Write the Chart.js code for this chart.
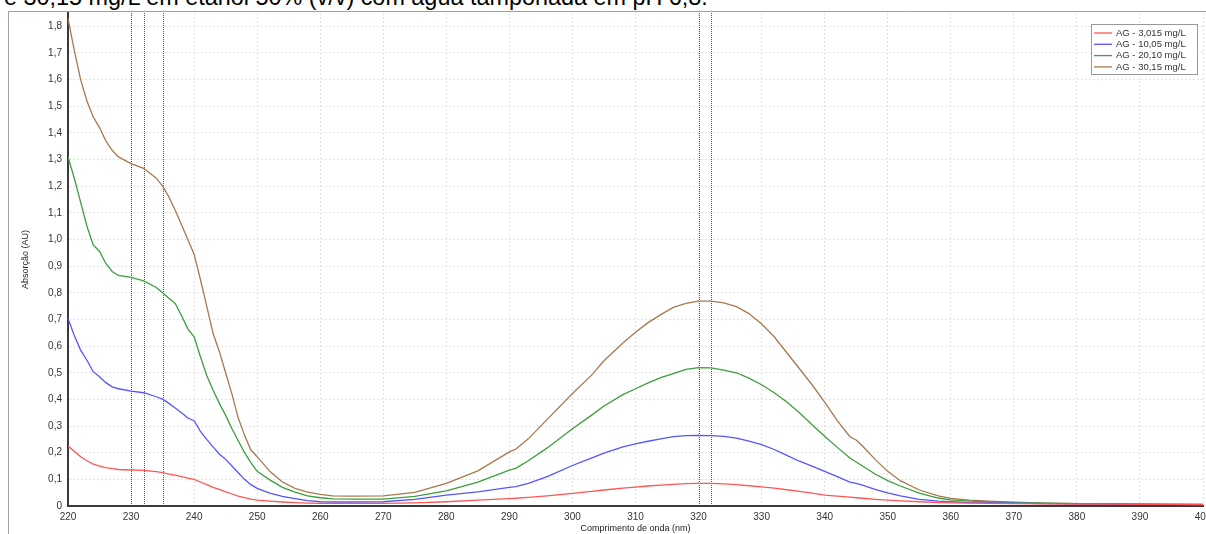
<!DOCTYPE html>
<html lang="pt">
<head>
<meta charset="utf-8">
<title>Espectro de absorção – AG</title>
<script src="https://cdn.jsdelivr.net/npm/chart.js@4.4.1/dist/chart.umd.min.js"></script>
<style>
  html, body { margin: 0; padding: 0; background: #fff; overflow: hidden; }
  #wrap { position: relative; width: 1206px; height: 534px; overflow: hidden; }
  #caption {
    position: absolute; left: 4px; top: -14px; white-space: nowrap;
    font-family: "Liberation Sans", Arial, sans-serif; font-size: 23.4px; line-height: 23px; color: #000;
  }
  #chart { position: absolute; left: 0; top: 0; }
</style>
</head>
<body>
<div id="wrap">
  <div id="caption">e 30,15 mg/L em etanol 50% (v/v) com água tamponada em pH 6,8.</div>
  <canvas id="chart" width="1206" height="534"></canvas>
</div>
<script>
// Wavelengths (nm) at which the spectra are sampled
const wavelengths = [
  220,221,222,223,224,225,226,227,228,230,232,234,
  235,236,237,238,239,240,241,242,243,244,245,246,247,248,249,250,
  252,254,256,258,260,262,265,270,275,280,285,290,
  291,293,296,300,303,305,308,310,
  312,314,316,318,320,322,324,326,328,330,332,334,336,338,340,342,344,
  345,346,348,350,352,355,358,360,363,366,370,
  375,380,385,390,395,400
];

// Absorbance (AU) for each concentration
const ag3015 = [
  0.225,0.205,0.185,0.170,0.157,0.150,0.144,0.140,0.137,0.135,0.134,0.129,
  0.125,0.120,0.116,0.110,0.105,0.100,0.090,0.080,0.070,0.062,0.053,0.045,0.037,0.031,0.026,0.022,
  0.018,0.015,0.013,0.011,0.010,0.010,0.010,0.010,0.012,0.016,0.022,0.028,
  0.029,0.032,0.038,0.047,0.055,0.060,0.067,0.071,
  0.075,0.078,0.081,0.084,0.085,0.085,0.083,0.080,0.076,0.072,0.067,0.061,0.055,0.048,0.041,0.037,0.033,
  0.031,0.029,0.025,0.022,0.019,0.016,0.013,0.012,0.011,0.010,0.009,
  0.008,0.007,0.007,0.006,0.006,0.005
];
const ag1005 = [
  0.704,0.640,0.585,0.547,0.504,0.485,0.463,0.447,0.440,0.431,0.425,0.410,
  0.401,0.385,0.368,0.350,0.330,0.320,0.280,0.250,0.222,0.195,0.175,0.150,0.125,0.100,0.080,0.066,
  0.048,0.036,0.028,0.020,0.016,0.015,0.015,0.016,0.025,0.041,0.053,0.070,
  0.073,0.085,0.110,0.152,0.180,0.198,0.222,0.233,
  0.243,0.252,0.260,0.264,0.265,0.264,0.261,0.255,0.243,0.230,0.212,0.190,0.168,0.150,0.130,0.110,0.090,
  0.085,0.078,0.062,0.049,0.038,0.025,0.018,0.016,0.013,0.012,0.011,
  0.009,0.008,0.007,0.006,0.006,0.005
];
const ag2010 = [
  1.310,1.230,1.140,1.050,0.980,0.955,0.910,0.880,0.865,0.858,0.845,0.820,
  0.800,0.780,0.760,0.715,0.665,0.635,0.560,0.490,0.435,0.385,0.340,0.290,0.245,0.200,0.163,0.130,
  0.098,0.070,0.052,0.038,0.031,0.027,0.026,0.026,0.036,0.057,0.090,0.135,
  0.141,0.170,0.218,0.290,0.340,0.375,0.418,0.440,
  0.462,0.482,0.497,0.513,0.519,0.518,0.510,0.500,0.480,0.455,0.425,0.390,0.350,0.305,0.262,0.220,0.180,
  0.165,0.150,0.120,0.095,0.075,0.048,0.030,0.023,0.018,0.015,0.013,
  0.011,0.009,0.008,0.007,0.006,0.006
];
const ag3015b = [
  1.830,1.710,1.600,1.520,1.460,1.420,1.370,1.335,1.310,1.285,1.267,1.230,
  1.200,1.160,1.110,1.055,1.000,0.945,0.850,0.750,0.648,0.580,0.500,0.420,0.330,0.265,0.210,0.185,
  0.130,0.090,0.066,0.052,0.044,0.038,0.037,0.038,0.051,0.085,0.132,0.203,
  0.213,0.252,0.325,0.422,0.490,0.545,0.612,0.652,
  0.688,0.718,0.745,0.760,0.769,0.769,0.762,0.748,0.722,0.683,0.635,0.575,0.515,0.455,0.390,0.320,0.260,
  0.248,0.225,0.175,0.130,0.095,0.060,0.038,0.029,0.022,0.018,0.014,
  0.011,0.009,0.008,0.007,0.006,0.006
];

const seriesLabels = ['AG - 3,015 mg/L', 'AG - 10,05 mg/L', 'AG - 20,10 mg/L', 'AG - 30,15 mg/L'];
const seriesColors = ['#ff5555', '#5555ff', '#3c9f3c', '#a8794f'];
const seriesValues = [ag3015, ag1005, ag2010, ag3015b];

// Reference wavelengths marked with dotted vertical lines
const markerWavelengths = [230, 232, 235, 320, 322];

const xTicks = { min: 220, max: 400, step: 10 };
const yTicks = { min: 0, max: 1.85, step: 0.1 };

const tickFont = { family: '"Liberation Sans", Arial, sans-serif', size: 10 };
const smallFont = '9.5px "Liberation Sans", Arial, sans-serif';

const datasets = seriesValues.map((vals, i) => ({
  label: seriesLabels[i],
  data: wavelengths.map((w, j) => ({ x: w, y: vals[j] })),
  borderColor: seriesColors[i],
  backgroundColor: seriesColors[i],
  borderWidth: 1.3,
  pointRadius: 0,
  tension: 0,
  fill: false
}));

// Outer frame of the plotting window
const framePlugin = {
  id: 'frame',
  beforeDraw(chart) {
    const c = chart.ctx;
    c.save();
    c.strokeStyle = '#a0a0a0';
    c.lineWidth = 1;
    c.beginPath();
    c.moveTo(8.5, chart.height);
    c.lineTo(8.5, 11.5);
    c.lineTo(chart.width, 11.5);
    c.stroke();
    c.restore();
  }
};

// Dotted vertical markers
const markerPlugin = {
  id: 'markers',
  beforeDatasetsDraw(chart) {
    const c = chart.ctx, x = chart.scales.x, a = chart.chartArea;
    c.save();
    c.strokeStyle = '#555';
    c.lineWidth = 1;
    c.setLineDash([1, 1]);
    markerWavelengths.forEach(w => {
      const px = Math.round(x.getPixelForValue(w)) + 0.5;
      c.beginPath();
      c.moveTo(px, a.top);
      c.lineTo(px, a.bottom);
      c.stroke();
    });
    c.restore();
  }
};

// Boxed legend in the upper right corner
const legendPlugin = {
  id: 'boxLegend',
  afterDatasetsDraw(chart) {
    const c = chart.ctx;
    const bx = 1091.5, by = 24.5, bw = 106, bh = 50;
    c.save();
    c.fillStyle = '#fff';
    c.fillRect(bx, by, bw, bh);
    c.strokeStyle = '#999';
    c.lineWidth = 1;
    c.strokeRect(bx, by, bw, bh);
    c.font = smallFont;
    c.textBaseline = 'middle';
    chart.data.datasets.forEach((ds, i) => {
      const y = 33 + i * 11.3;
      c.strokeStyle = ds.borderColor;
      c.lineWidth = 1.3;
      c.beginPath();
      c.moveTo(1094, y);
      c.lineTo(1112, y);
      c.stroke();
      c.fillStyle = '#333';
      c.fillText(ds.label, 1116, y);
    });
    c.restore();
  }
};

const gridColor = '#e2e2e2';

new Chart(document.getElementById('chart'), {
  type: 'line',
  data: { datasets },
  plugins: [framePlugin, markerPlugin, legendPlugin],
  options: {
    responsive: false,
    animation: false,
    events: [],
    layout: { padding: { top: 13, right: 3, left: 0, bottom: 0 } },
    plugins: { legend: { display: false }, title: { display: false }, tooltip: { enabled: false } },
    scales: {
      x: {
        type: 'linear',
        min: xTicks.min, max: xTicks.max,
        ticks: { stepSize: xTicks.step, color: '#333', font: tickFont, padding: 5, maxRotation: 0, autoSkip: false,
                 callback: v => String(v) },
        grid: { color: gridColor, drawTicks: false, tickLength: 0 },
        border: { color: '#3a3a3a', width: 2, dash: [2, 2] },
        title: { display: true, text: 'Comprimento de onda (nm)', color: '#222',
                 font: { family: tickFont.family, size: 9 }, padding: { top: 0, bottom: 0 } },
        afterFit(s) { s.height = 28; s.paddingLeft = 0; s.paddingRight = 0; }
      },
      y: {
        type: 'linear',
        min: yTicks.min, max: yTicks.max,
        ticks: { stepSize: yTicks.step, color: '#333', font: tickFont, padding: 6,
                 callback: v => (Math.abs(v) < 1e-9 ? '0' : v.toFixed(1).replace('.', ',')) },
        afterBuildTicks(s) {
          s.ticks = s.ticks.filter(t => Math.abs(t.value * 10 - Math.round(t.value * 10)) < 1e-6);
        },
        grid: { color: gridColor, drawTicks: false, tickLength: 0 },
        border: { color: '#3a3a3a', width: 2, dash: [2, 2] },
        title: { display: true, text: 'Absorção (AU)', color: '#222',
                 font: { family: tickFont.family, size: 9 }, padding: { top: 20, bottom: 0 } },
        afterFit(s) { s.width = 68; s.paddingTop = 0; s.paddingBottom = 0; }
      }
    }
  }
});
</script>
</body>
</html>
